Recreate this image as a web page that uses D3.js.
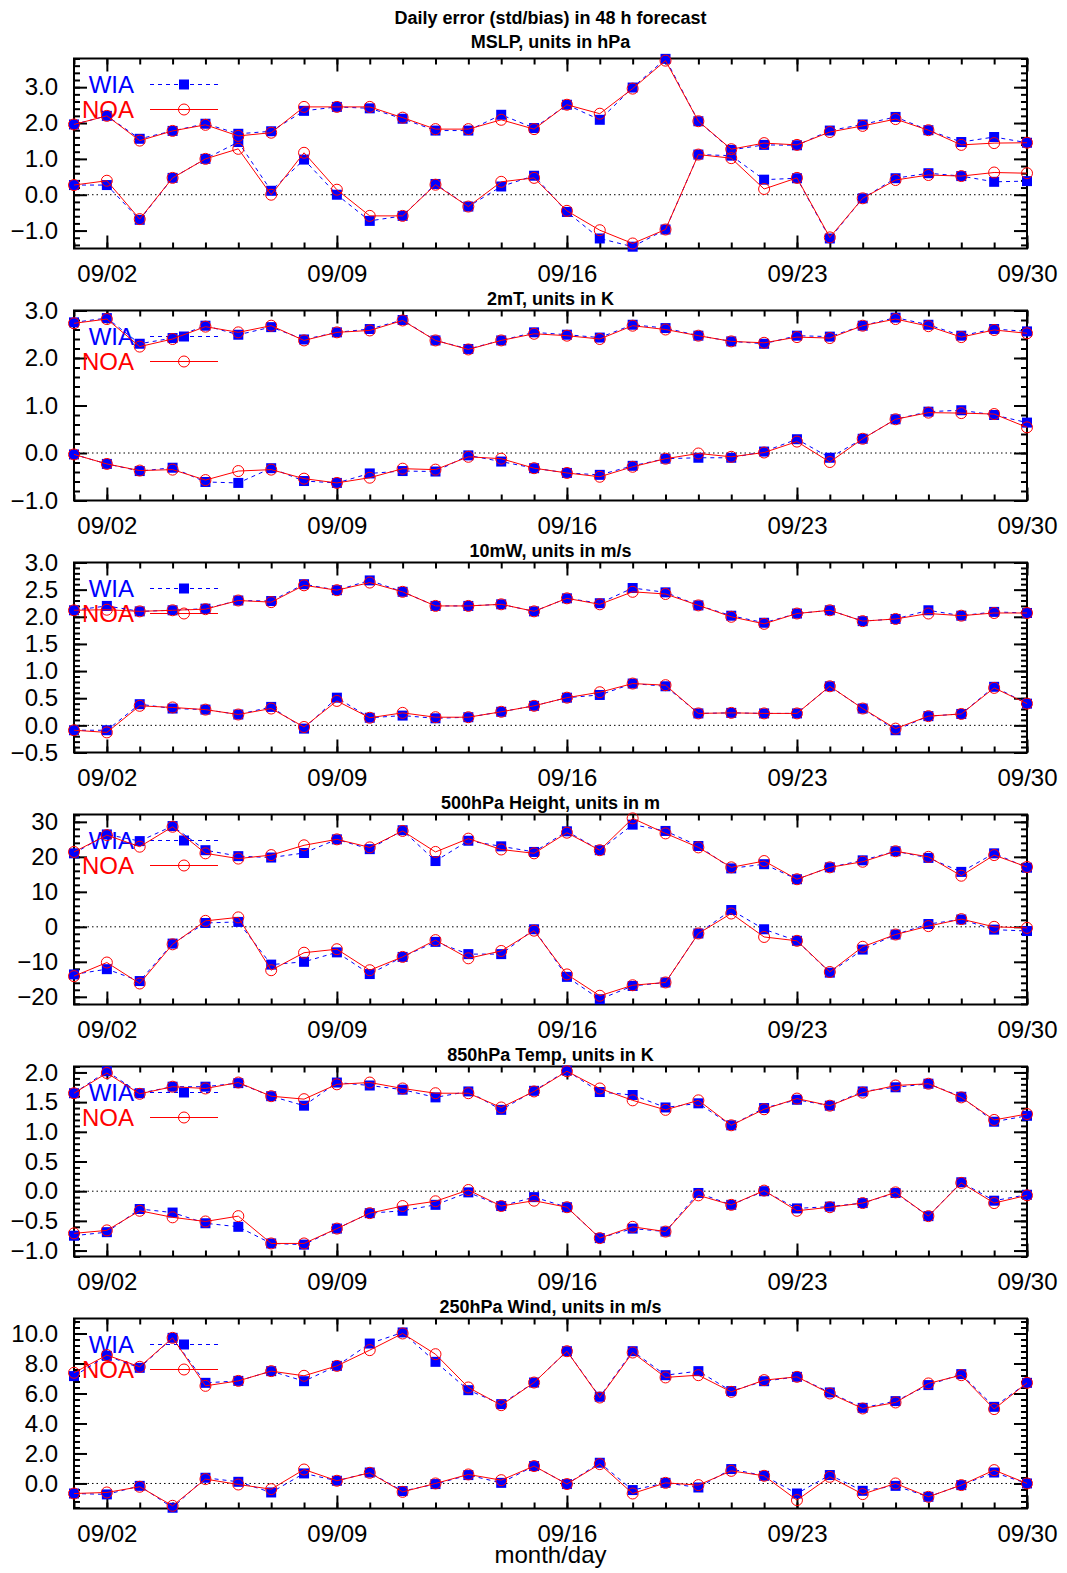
<!DOCTYPE html>
<html>
<head>
<meta charset="utf-8">
<script src="https://cdn.jsdelivr.net/npm/d3@7"></script>
<style>
  body { margin: 0; background: #fff; }
  text { font-family: "Liberation Sans", Arial, Helvetica, sans-serif; }
</style>
</head>
<body>
<svg id="chart" width="1067" height="1573"></svg>
<script>
// days of September on the x axis
const days = [1, 2, 3, 4, 5, 6, 7, 8, 9, 10, 11, 12, 13, 14, 15, 16, 17, 18, 19, 20, 21, 22, 23, 24, 25, 26, 27, 28, 29, 30];
const dayTicks = [2, 9, 16, 23, 30];
const dayTickLabels = ['09/02', '09/09', '09/16', '09/23', '09/30'];

// MSLP (hPa)
const mslpWiaStd = [1.96, 2.20, 1.56, 1.78, 1.98, 1.70, 1.77, 2.34, 2.45, 2.41, 2.12, 1.79, 1.79, 2.23, 1.86, 2.51, 2.09, 2.99, 3.79, 2.05, 1.25, 1.39, 1.38, 1.79, 1.96, 2.17, 1.80, 1.47, 1.61, 1.45];
const mslpNoaStd = [1.96, 2.20, 1.51, 1.78, 1.95, 1.64, 1.73, 2.45, 2.45, 2.45, 2.15, 1.83, 1.83, 2.09, 1.83, 2.51, 2.26, 2.96, 3.74, 2.05, 1.27, 1.44, 1.39, 1.75, 1.92, 2.11, 1.80, 1.39, 1.44, 1.45];
const mslpWiaBias = [0.27, 0.27, -0.70, 0.47, 1.00, 1.47, 0.11, 0.98, 0.00, -0.73, -0.59, 0.30, -0.33, 0.23, 0.53, -0.48, -1.22, -1.45, -0.97, 1.12, 1.09, 0.42, 0.46, -1.22, -0.10, 0.46, 0.60, 0.52, 0.36, 0.38];
const mslpNoaBias = [0.27, 0.39, -0.68, 0.47, 1.00, 1.28, 0.00, 1.17, 0.14, -0.59, -0.59, 0.28, -0.33, 0.36, 0.47, -0.45, -0.99, -1.36, -0.97, 1.12, 1.02, 0.16, 0.47, -1.19, -0.10, 0.41, 0.55, 0.52, 0.62, 0.60];

// 2m temperature (K)
const t2mWiaStd = [2.75, 2.84, 2.30, 2.42, 2.68, 2.49, 2.65, 2.39, 2.54, 2.61, 2.80, 2.37, 2.19, 2.37, 2.54, 2.49, 2.43, 2.70, 2.63, 2.47, 2.35, 2.30, 2.47, 2.45, 2.68, 2.85, 2.70, 2.47, 2.61, 2.56];
const t2mNoaStd = [2.73, 2.82, 2.24, 2.40, 2.66, 2.54, 2.68, 2.37, 2.54, 2.58, 2.79, 2.37, 2.18, 2.37, 2.51, 2.47, 2.40, 2.68, 2.60, 2.47, 2.35, 2.32, 2.44, 2.42, 2.68, 2.82, 2.67, 2.44, 2.59, 2.52];
const t2mWiaBias = [-0.03, -0.23, -0.38, -0.31, -0.61, -0.63, -0.32, -0.59, -0.63, -0.43, -0.38, -0.39, -0.05, -0.18, -0.32, -0.42, -0.46, -0.27, -0.12, -0.10, -0.10, 0.03, 0.29, -0.10, 0.30, 0.71, 0.87, 0.90, 0.80, 0.64];
const t2mNoaBias = [-0.03, -0.23, -0.37, -0.35, -0.57, -0.38, -0.35, -0.54, -0.63, -0.52, -0.33, -0.35, -0.08, -0.12, -0.32, -0.42, -0.50, -0.29, -0.12, -0.01, -0.08, 0.01, 0.24, -0.19, 0.30, 0.71, 0.85, 0.84, 0.82, 0.54];

// 10m wind (m/s)
const w10WiaStd = [2.12, 2.20, 2.10, 2.12, 2.15, 2.30, 2.29, 2.60, 2.49, 2.67, 2.46, 2.20, 2.20, 2.23, 2.10, 2.34, 2.25, 2.53, 2.45, 2.21, 2.02, 1.89, 2.06, 2.12, 1.92, 1.96, 2.12, 2.02, 2.09, 2.07];
const w10NoaStd = [2.12, 2.13, 2.10, 2.12, 2.14, 2.30, 2.27, 2.58, 2.49, 2.63, 2.46, 2.20, 2.20, 2.23, 2.10, 2.34, 2.23, 2.46, 2.42, 2.21, 2.00, 1.87, 2.06, 2.12, 1.92, 1.96, 2.06, 2.02, 2.07, 2.07];
const w10WiaBias = [-0.09, -0.09, 0.39, 0.31, 0.29, 0.20, 0.34, -0.06, 0.51, 0.14, 0.18, 0.13, 0.15, 0.25, 0.36, 0.51, 0.56, 0.77, 0.72, 0.22, 0.23, 0.22, 0.22, 0.72, 0.31, -0.09, 0.17, 0.21, 0.71, 0.40];
const w10NoaBias = [-0.09, -0.13, 0.36, 0.33, 0.29, 0.20, 0.31, -0.03, 0.45, 0.14, 0.23, 0.15, 0.15, 0.25, 0.36, 0.51, 0.61, 0.77, 0.74, 0.22, 0.23, 0.22, 0.22, 0.72, 0.31, -0.06, 0.17, 0.21, 0.69, 0.40];

// 500hPa height (m)
const z500WiaStd = [21.0, 26.4, 24.5, 28.8, 21.9, 20.2, 19.8, 21.1, 25.0, 22.2, 27.6, 18.8, 24.6, 23.0, 21.4, 27.3, 21.9, 29.2, 27.4, 23.1, 16.7, 17.9, 13.6, 17.0, 19.0, 21.6, 19.7, 15.7, 21.0, 16.9];
const z500NoaStd = [21.4, 26.2, 22.9, 28.6, 21.0, 19.5, 20.5, 23.3, 25.0, 22.7, 27.4, 21.4, 25.2, 22.1, 21.0, 26.9, 21.9, 31.0, 26.7, 22.7, 17.0, 18.8, 13.6, 17.0, 18.6, 21.6, 20.0, 14.6, 20.5, 17.1];
const z500WiaBias = [-13.6, -12.1, -15.5, -4.8, 1.1, 1.4, -10.8, -10.0, -7.3, -13.5, -8.6, -4.3, -7.8, -7.8, -0.7, -14.3, -20.7, -16.9, -15.9, -1.9, 4.8, -0.7, -4.0, -13.1, -6.5, -2.2, 0.8, 2.1, -0.8, -1.2];
const z500NoaBias = [-14.1, -10.2, -16.2, -5.0, 1.7, 2.7, -12.4, -7.4, -6.4, -12.4, -8.6, -3.8, -9.0, -6.9, -1.1, -13.6, -19.7, -16.7, -15.9, -1.9, 3.8, -2.9, -4.0, -12.9, -5.7, -2.2, 0.2, 2.2, 0.0, -0.3];

// 850hPa temperature (K)
const t850WiaStd = [1.65, 2.02, 1.65, 1.76, 1.76, 1.82, 1.60, 1.44, 1.83, 1.78, 1.71, 1.58, 1.68, 1.37, 1.69, 2.03, 1.67, 1.62, 1.41, 1.48, 1.11, 1.40, 1.54, 1.44, 1.68, 1.75, 1.81, 1.59, 1.17, 1.27];
const t850NoaStd = [1.65, 1.99, 1.64, 1.76, 1.73, 1.83, 1.60, 1.55, 1.80, 1.83, 1.73, 1.65, 1.65, 1.41, 1.68, 2.02, 1.73, 1.53, 1.37, 1.53, 1.11, 1.38, 1.56, 1.44, 1.66, 1.78, 1.81, 1.58, 1.20, 1.30];
const t850WiaBias = [-0.75, -0.69, -0.30, -0.36, -0.54, -0.60, -0.88, -0.90, -0.63, -0.37, -0.33, -0.23, -0.02, -0.25, -0.10, -0.27, -0.79, -0.63, -0.68, -0.03, -0.23, 0.00, -0.29, -0.26, -0.20, -0.03, -0.42, 0.15, -0.16, -0.06];
const t850NoaBias = [-0.71, -0.66, -0.33, -0.44, -0.51, -0.42, -0.88, -0.88, -0.63, -0.37, -0.25, -0.17, 0.02, -0.25, -0.16, -0.27, -0.79, -0.60, -0.68, -0.07, -0.23, 0.01, -0.33, -0.27, -0.20, -0.02, -0.42, 0.14, -0.20, -0.07];

// 250hPa wind (m/s)
const w250WiaStd = [7.16, 8.51, 7.71, 9.71, 6.71, 6.84, 7.49, 6.82, 7.84, 9.33, 10.07, 8.11, 6.22, 5.29, 6.73, 8.82, 5.78, 8.82, 7.22, 7.49, 6.16, 6.82, 7.11, 6.07, 5.04, 5.49, 6.56, 7.29, 5.11, 6.71];
const w250NoaStd = [7.38, 8.56, 7.78, 9.71, 6.51, 6.84, 7.49, 7.18, 7.84, 8.89, 10.00, 8.62, 6.40, 5.22, 6.73, 8.82, 5.73, 8.73, 7.07, 7.22, 6.11, 6.89, 7.11, 6.00, 5.00, 5.40, 6.67, 7.22, 4.96, 6.71];
const w250WiaBias = [-0.67, -0.73, -0.16, -1.62, 0.38, 0.11, -0.60, 0.67, 0.18, 0.73, -0.51, -0.04, 0.56, 0.04, 1.16, -0.04, 1.38, -0.44, 0.04, -0.27, 0.96, 0.51, -0.67, 0.56, -0.49, -0.16, -0.89, -0.11, 0.73, 0.00];
const w250NoaBias = [-0.67, -0.60, -0.22, -1.49, 0.29, -0.07, -0.38, 0.93, 0.18, 0.71, -0.56, 0.00, 0.60, 0.22, 1.16, -0.04, 1.29, -0.67, 0.04, -0.11, 0.84, 0.51, -1.11, 0.44, -0.71, 0.00, -0.89, -0.11, 0.89, 0.00];

// panel titles and y axis ranges
const panelTitles = ['MSLP, units in hPa', '2mT, units in K', '10mW, units in m/s', '500hPa Height, units in m', '850hPa Temp, units in K', '250hPa Wind, units in m/s'];
const panelDomains = [[-1.5, 3.8], [-1, 3], [-0.5, 3.0], [-22.2, 32.1], [-1.1, 2.1], [-1.67, 11.0]];
const panelMajorTicks = [[-1, 0, 1, 2, 3], [-1, 0, 1, 2, 3], [-0.5, 0, 0.5, 1, 1.5, 2, 2.5, 3], [-20, -10, 0, 10, 20, 30], [-1, -0.5, 0, 0.5, 1, 1.5, 2], [0, 2, 4, 6, 8, 10]];
const panelMinorSteps = [0.2, 0.2, 0.1, 2, 0.1, 0.4];
const panelFormats = ['.1f', '.1f', '.1f', 'd', '.1f', '.1f'];

const panels = [
  [mslpWiaStd, mslpWiaBias, mslpNoaStd, mslpNoaBias],
  [t2mWiaStd, t2mWiaBias, t2mNoaStd, t2mNoaBias],
  [w10WiaStd, w10WiaBias, w10NoaStd, w10NoaBias],
  [z500WiaStd, z500WiaBias, z500NoaStd, z500NoaBias],
  [t850WiaStd, t850WiaBias, t850NoaStd, t850NoaBias],
  [w250WiaStd, w250WiaBias, w250NoaStd, w250NoaBias],
].map((s, i) => ({
  title: panelTitles[i], domain: panelDomains[i], major: panelMajorTicks[i],
  minorStep: panelMinorSteps[i], fmt: panelFormats[i],
  wia: [s[0], s[1]], noa: [s[2], s[3]],
}));

// layout
const left = 74, right = 1027;
const firstTop = 58.5, panelStep = 252, panelHeight = 190;
const blue = '#0000ff', red = '#ff0000';

const svg = d3.select('#chart');
svg.append('rect').attr('width', 1067).attr('height', 1573).attr('fill', '#fff');

const x = d3.scaleLinear().domain([1, 30]).range([left, right]);

svg.append('text')
  .attr('x', (left + right) / 2).attr('y', 24)
  .attr('text-anchor', 'middle').attr('font-size', 18).attr('font-weight', 'bold')
  .text('Daily error (std/bias) in 48 h forecast');

function minorTicks(domain, step) {
  const lo = Math.ceil(domain[0] / step - 1e-9), hi = Math.floor(domain[1] / step + 1e-9);
  return d3.range(lo, hi + 1).map(k => +(k * step).toFixed(4));
}

function drawSeries(g, y, values, color, dashed, marker) {
  const pts = days.map((d, i) => [x(d), y(values[i])]);
  g.append('path')
    .attr('d', d3.line()(pts))
    .attr('fill', 'none').attr('stroke', color).attr('stroke-width', 1)
    .attr('stroke-dasharray', dashed ? '4,4' : null);
  drawMarkers(g, pts, color, marker);
}

function drawMarkers(g, pts, color, marker) {
  if (marker === 'square') {
    g.selectAll(null).data(pts).enter().append('rect')
      .attr('x', p => p[0] - 5).attr('y', p => p[1] - 5)
      .attr('width', 10).attr('height', 10).attr('fill', color);
  } else {
    g.selectAll(null).data(pts).enter().append('circle')
      .attr('cx', p => p[0]).attr('cy', p => p[1]).attr('r', 5.5)
      .attr('fill', 'none').attr('stroke', color).attr('stroke-width', 1);
  }
}

panels.forEach((p, i) => {
  const top = firstTop + i * panelStep, bottom = top + panelHeight;
  const y = d3.scaleLinear().domain(p.domain).range([bottom, top]);
  const g = svg.append('g');

  // panel title
  g.append('text')
    .attr('x', (left + right) / 2).attr('y', i === 0 ? 48 : top - 6)
    .attr('text-anchor', 'middle').attr('font-size', 18).attr('font-weight', 'bold')
    .text(p.title);

  // zero reference line
  g.append('line')
    .attr('x1', left).attr('x2', right).attr('y1', y(0)).attr('y2', y(0))
    .attr('stroke', '#000').attr('stroke-width', 1).attr('stroke-dasharray', '1.5,3');

  // axes: frame, inward ticks
  const fmt = d3.format(p.fmt);
  const axes = g.append('g').attr('stroke-width', 2);
  const mk = (axis, tx, ty) => {
    const a = axes.append('g').attr('transform', `translate(${tx},${ty})`).call(axis);
    a.select('.domain').remove();
    a.selectAll('line').attr('stroke-width', 2);
    return a;
  };
  const yl = mk(d3.axisLeft(y).tickValues(p.major).tickSize(-13).tickSizeOuter(0).tickPadding(16).tickFormat(fmt), left, 0);
  yl.selectAll('text').attr('font-size', 24).attr('fill', '#000').attr('font-family', '"Liberation Sans", Arial, sans-serif');
  mk(d3.axisLeft(y).tickValues(minorTicks(p.domain, p.minorStep)).tickSize(-6).tickSizeOuter(0).tickFormat(''), left, 0);
  mk(d3.axisRight(y).tickValues(p.major).tickSize(-13).tickSizeOuter(0).tickFormat(''), right, 0);
  mk(d3.axisRight(y).tickValues(minorTicks(p.domain, p.minorStep)).tickSize(-6).tickSizeOuter(0).tickFormat(''), right, 0);

  const xb = mk(d3.axisBottom(x).tickValues(dayTicks).tickSize(-13).tickSizeOuter(0).tickPadding(16)
    .tickFormat((d, k) => dayTickLabels[k]), 0, bottom);
  xb.selectAll('text').attr('font-size', 24).attr('fill', '#000').attr('font-family', '"Liberation Sans", Arial, sans-serif');
  mk(d3.axisBottom(x).tickValues(days).tickSize(-6).tickSizeOuter(0).tickFormat(''), 0, bottom);
  mk(d3.axisTop(x).tickValues(dayTicks).tickSize(-13).tickSizeOuter(0).tickFormat(''), 0, top);
  mk(d3.axisTop(x).tickValues(days).tickSize(-6).tickSizeOuter(0).tickFormat(''), 0, top);

  g.append('rect')
    .attr('x', left).attr('y', top).attr('width', right - left).attr('height', panelHeight)
    .attr('fill', 'none').attr('stroke', '#000').attr('stroke-width', 2);

  // legend
  const legend = [
    { name: 'WIA', color: blue, dashed: true, marker: 'square', dy: 26 },
    { name: 'NOA', color: red, dashed: false, marker: 'circle', dy: 51 },
  ];
  legend.forEach(l => {
    const ly = top + l.dy;
    g.append('text')
      .attr('x', 134).attr('y', ly).attr('dy', '0.36em')
      .attr('text-anchor', 'end').attr('font-size', 24).attr('fill', l.color)
      .text(l.name);
    g.append('line')
      .attr('x1', 150).attr('x2', 218).attr('y1', ly).attr('y2', ly)
      .attr('stroke', l.color).attr('stroke-width', 1)
      .attr('stroke-dasharray', l.dashed ? '4,4' : null);
    drawMarkers(g, [[184, ly]], l.color, l.marker);
  });

  // data: WIA first, NOA drawn over it
  p.wia.forEach(s => drawSeries(g, y, s, blue, true, 'square'));
  p.noa.forEach(s => drawSeries(g, y, s, red, false, 'circle'));
});

svg.append('text')
  .attr('x', (left + right) / 2).attr('y', 1563)
  .attr('text-anchor', 'middle').attr('font-size', 24)
  .text('month/day');
</script>
</body>
</html>
